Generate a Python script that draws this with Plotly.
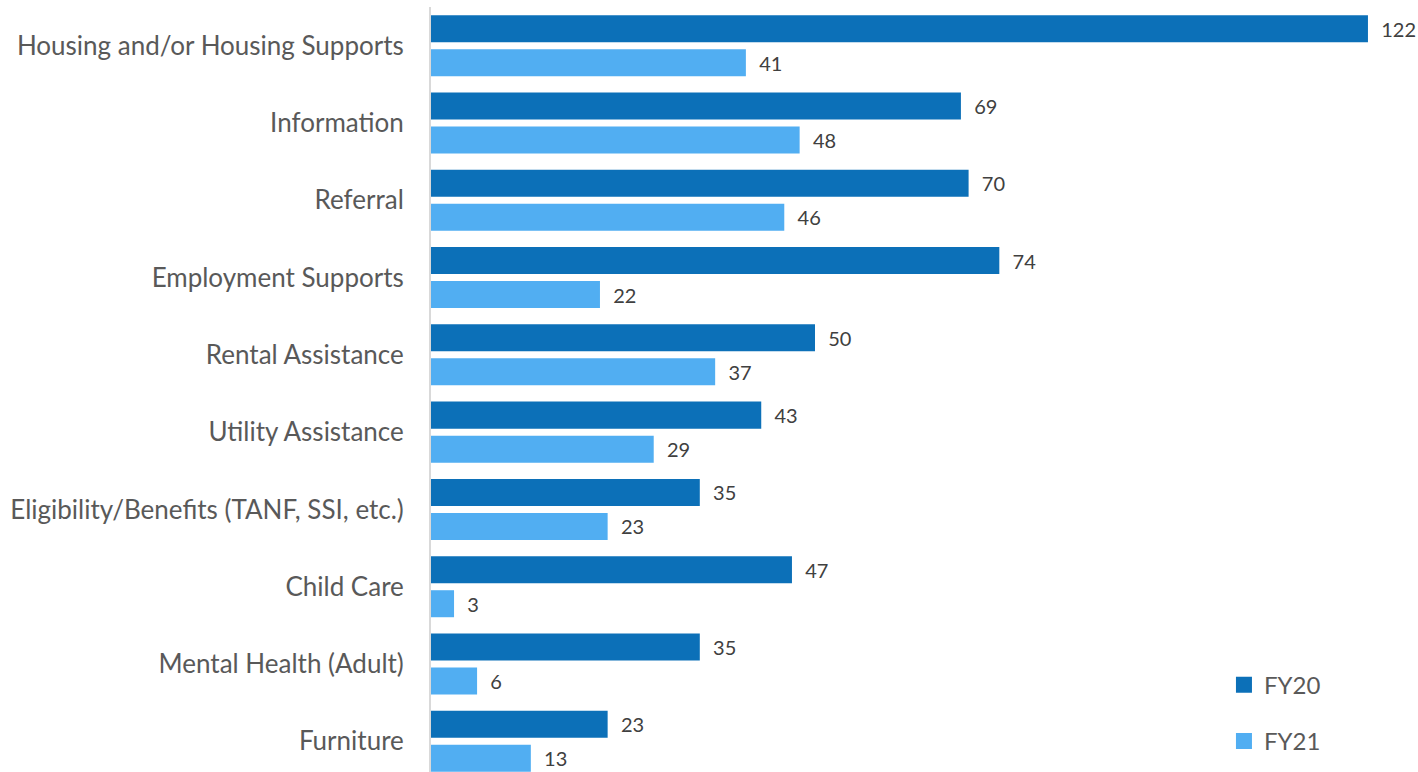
import plotly.graph_objects as go

categories = ["Housing and/or Housing Supports", "Information", "Referral",
              "Employment Supports", "Rental Assistance", "Utility Assistance",
              "Eligibility/Benefits (TANF, SSI, etc.)", "Child Care",
              "Mental Health (Adult)", "Furniture"]
fy20 = [122, 69, 70, 74, 50, 43, 35, 47, 35, 23]
fy21 = [41, 48, 46, 22, 37, 29, 23, 3, 6, 13]
series_names = ["FY20", "FY21"]
colors = ["#0C70B8", "#51AEF2"]

FONT = "Lato, Open Sans, sans-serif"

fig = go.Figure()
for name, vals, col in zip(series_names, [fy20, fy21], colors):
    fig.add_trace(go.Bar(
        y=categories, x=vals, orientation="h", name=name,
        marker=dict(color=col, line=dict(width=0)),
        text=[str(v) for v in vals], textposition="outside",
        texttemplate="  %{text}",
        textfont=dict(size=20, color="#404040", family=FONT),
        cliponaxis=False, showlegend=False,
    ))
    fig.add_trace(go.Scatter(
        x=[None], y=[None], mode="markers", name=name, legendgroup=name,
        marker=dict(symbol="square", size=16, color=col),
    ))

fig.update_layout(
    width=1418, height=772,
    margin=dict(l=431, r=27, t=7, b=0, autoexpand=False),
    paper_bgcolor="white", plot_bgcolor="white",
    barmode="group", bargap=0.12, bargroupgap=0.206,
    font=dict(family=FONT, color="#595959"),
    legend=dict(x=0.826, y=0.143, xanchor="left", yanchor="top",
                font=dict(size=24, color="#595959", family=FONT),
                tracegroupgap=22, itemsizing="trace",
                bgcolor="rgba(0,0,0,0)"),
    xaxis=dict(range=[0, 125], showgrid=False, zeroline=False,
               showticklabels=False, showline=False, automargin=False),
    yaxis=dict(categoryorder="array", categoryarray=categories,
               range=[9.397, -0.5], showgrid=False, zeroline=False,
               showline=True, linecolor="#D9D9D9", linewidth=2,
               ticks="", ticklabelstandoff=20, automargin=False,
               tickfont=dict(size=26, color="#595959", family=FONT)),
)

fig.write_html("out.html", config={"displayModeBar": False},
               post_script="document.body.style.margin='0px';document.body.style.overflow='hidden';")
